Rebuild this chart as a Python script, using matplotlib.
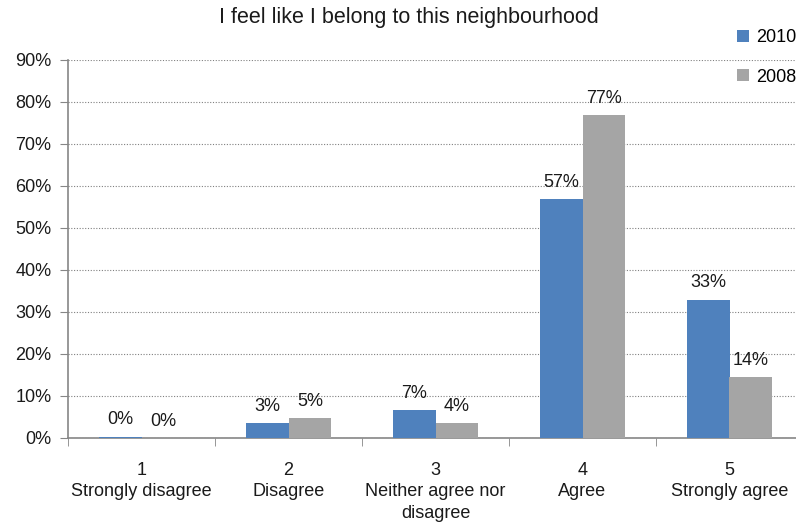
import matplotlib
matplotlib.use("Agg")
import matplotlib.pyplot as plt
import numpy as np

plt.rcParams['font.family'] = ['Liberation Sans', 'DejaVu Sans']

title = "I feel like I belong to this neighbourhood"
categories = ["1\nStrongly disagree", "2\nDisagree", "3\nNeither agree nor\ndisagree", "4\nAgree", "5\nStrongly agree"]
series_names = ["2010", "2008"]
values_2010 = [0.3, 3.6, 6.6, 56.9, 32.9]
values_2008 = [0.0, 4.8, 3.6, 76.9, 14.5]
labels_2010 = ["0%", "3%", "7%", "57%", "33%"]
labels_2008 = ["0%", "5%", "4%", "77%", "14%"]
yticks = [0, 10, 20, 30, 40, 50, 60, 70, 80, 90]

blue = "#4F81BD"
gray = "#A5A5A5"
axis_col = "#868686"
txt = "#1a1a1a"

W, H = 796, 525
fig = plt.figure(figsize=(W/100, H/100), dpi=100)
left, right = 68/W, 803/W
bottom, top = (H-438)/H, (H-60)/H
ax = fig.add_axes([left, bottom, right-left, top-bottom])

x = np.arange(len(categories))
bw = 0.29
b1 = ax.bar(x - bw/2, values_2010, bw, color=blue, label=series_names[0], zorder=3)
b2 = ax.bar(x + bw/2, values_2008, bw, color=gray, label=series_names[1], zorder=3)

for bars, labs in ((b1, labels_2010), (b2, labels_2008)):
    for rect, lab in zip(bars, labs):
        ax.annotate(lab, (rect.get_x() + rect.get_width()/2, rect.get_height()),
                    xytext=(0, 6), textcoords="offset points", ha="center", va="bottom",
                    fontsize=13, color=txt)

ax.set_xlim(-0.5, len(categories) - 0.5)
ax.set_ylim(0, 90)
ax.set_yticks(yticks)
ax.set_yticklabels([f"{t}%" for t in yticks], fontsize=13, color=txt)
ax.set_xticks(x)
ax.set_xticklabels(categories, fontsize=13, color=txt, linespacing=1.35)
ax.set_xticks(np.arange(len(categories) + 1) - 0.5, minor=True)
ax.tick_params(axis='x', which='major', length=0, pad=17)
ax.tick_params(axis='x', which='minor', length=6, color=axis_col, direction='out')
ax.tick_params(axis='y', length=6, color=axis_col, direction='out', pad=6)

ax.yaxis.grid(True, linestyle=(0, (1, 1.5)), color="#808080", linewidth=0.8, zorder=0)
for s in ['top', 'right']:
    ax.spines[s].set_visible(False)
for s in ['left', 'bottom']:
    ax.spines[s].set_color(axis_col)
    ax.spines[s].set_linewidth(1.2)

fig.text(409/W, 1 - 18/H, title, ha="center", va="center", fontsize=15.5, color=txt)

leg = fig.legend(handles=[b1, b2], labels=series_names, loc="upper left",
                 bbox_to_anchor=(737/W, 1 - 29/H), frameon=False, fontsize=13,
                 handlelength=0.65, handleheight=0.65, handletextpad=0.4, labelspacing=1.25,
                 borderpad=0, borderaxespad=0)

fig.savefig("out.png", dpi=100)
